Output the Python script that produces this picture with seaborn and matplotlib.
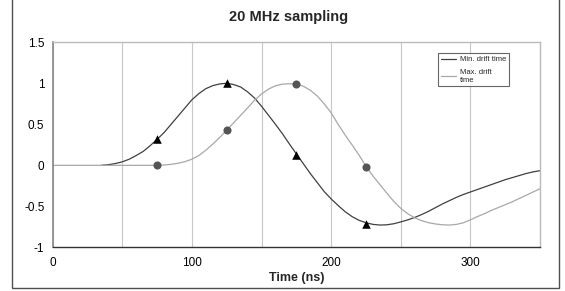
import pandas as pd
import matplotlib.pyplot as plt
import seaborn as sns
from matplotlib.patches import Rectangle
from matplotlib.ticker import MultipleLocator

# curve samples (time in ns, amplitude)
min_time = [35, 40, 45, 50, 55, 60, 65, 70, 75, 80, 85, 90, 95, 100, 105, 110, 115, 120, 125,
            130, 135, 140, 145, 150, 155, 160, 165, 170, 175, 180, 185, 190, 195, 200, 205, 210,
            215, 220, 225, 230, 235, 240, 245, 250, 255, 260, 265, 270, 275, 280, 285, 290, 295,
            300, 305, 310, 315, 320, 325, 330, 335, 340, 345, 350]
min_value = [0.0, 0.008, 0.022, 0.043, 0.075, 0.12, 0.17, 0.24, 0.317, 0.40, 0.50, 0.60, 0.70,
             0.80, 0.875, 0.935, 0.972, 0.993, 1.0, 0.985, 0.955, 0.895, 0.82, 0.72, 0.61, 0.50,
             0.385, 0.26, 0.14, 0.02, -0.10, -0.21, -0.32, -0.41, -0.49, -0.565, -0.625, -0.67,
             -0.70, -0.72, -0.728, -0.725, -0.712, -0.69, -0.665, -0.635, -0.60, -0.56, -0.515,
             -0.47, -0.43, -0.39, -0.355, -0.325, -0.295, -0.265, -0.235, -0.205, -0.175, -0.15,
             -0.125, -0.10, -0.08, -0.065]

max_time = [0, 60, 70, 75, 80, 85, 90, 95, 100, 105, 110, 115, 120, 125, 130, 135, 140, 145,
            150, 155, 160, 165, 170, 175, 180, 185, 190, 195, 200, 205, 210, 215, 220, 225, 230,
            235, 240, 245, 250, 255, 260, 265, 270, 275, 280, 285, 290, 295, 300, 305, 310, 315,
            320, 325, 330, 335, 340, 345, 350]
max_value = [0.0, 0.0, 0.0, 0.0, 0.004, 0.012, 0.025, 0.045, 0.075, 0.12, 0.185, 0.26, 0.34,
             0.43, 0.52, 0.61, 0.70, 0.795, 0.87, 0.93, 0.97, 0.99, 0.995, 0.99, 0.965, 0.915,
             0.845, 0.75, 0.64, 0.50, 0.37, 0.25, 0.125, -0.01, -0.13, -0.235, -0.34, -0.44,
             -0.525, -0.59, -0.64, -0.675, -0.70, -0.715, -0.725, -0.728, -0.72, -0.70, -0.665,
             -0.625, -0.59, -0.55, -0.515, -0.48, -0.445, -0.405, -0.365, -0.325, -0.285]

# 20 MHz samples (every 50 ns)
sample_time = [75, 125, 175, 225]
min_samples = [0.32, 1.0, 0.13, -0.71]
max_samples = [0.0, 0.43, 0.99, -0.02]

x_ticks = [0, 100, 200, 300]
y_ticks = [-1, -0.5, 0, 0.5, 1, 1.5]
y_tick_labels = ['-1', '-0.5', '0', '0.5', '1', '1.5']

sns.set_style('white')
plt.rcParams['font.family'] = ['Liberation Sans', 'DejaVu Sans']

fig = plt.figure(figsize=(5.65, 2.91), dpi=100)
ax = fig.add_axes([0.0933, 0.150, 0.8625, 0.7046])

# outer chart frame
fig.patches.append(Rectangle((12 / 565, 3.5 / 291), 547 / 565, 1.0, transform=fig.transFigure,
                             fill=False, edgecolor='#505050', linewidth=1.0, zorder=0))

min_df = pd.DataFrame({'t': min_time, 'v': min_value})
max_df = pd.DataFrame({'t': max_time, 'v': max_value})

sns.lineplot(data=min_df, x='t', y='v', ax=ax, color='#404040', linewidth=0.9,
             label='Min. drift time', clip_on=False)
sns.lineplot(data=max_df, x='t', y='v', ax=ax, color='#a8a8a8', linewidth=0.9,
             label='Max. drift\ntime', clip_on=False)
sns.scatterplot(x=sample_time, y=min_samples, ax=ax, marker='^', s=38, color='black',
                edgecolor='black', linewidth=0, zorder=5, legend=False)
sns.scatterplot(x=sample_time, y=max_samples, ax=ax, marker='o', s=34, color='#555555',
                edgecolor='#555555', linewidth=0, zorder=5, legend=False)

ax.set_xlim(0, 350)
ax.set_ylim(-1, 1.5)
ax.set_xticks(x_ticks)
ax.xaxis.set_minor_locator(MultipleLocator(50))
ax.set_yticks(y_ticks)
ax.set_yticklabels(y_tick_labels)
ax.grid(True, axis='x', which='both', color='#c8c8c8', linewidth=0.8)
ax.grid(False, axis='y')
ax.tick_params(axis='both', which='major', direction='inout', length=4, width=0.8,
               labelsize=8.5, colors='#333333', labelcolor='black')
ax.tick_params(axis='x', which='major', pad=5)
ax.tick_params(axis='y', which='major', pad=4)
ax.tick_params(axis='x', which='minor', length=0)

ax.spines['left'].set_color('#888888')
ax.spines['left'].set_linewidth(1.2)
ax.spines['bottom'].set_color('#333333')
ax.spines['bottom'].set_linewidth(1.0)
for side in ['top', 'right']:
    ax.spines[side].set_visible(True)
    ax.spines[side].set_color('#bbbbbb')
    ax.spines[side].set_linewidth(1.0)

ax.set_xlabel('Time (ns)', fontsize=9, fontweight='bold', labelpad=2)
ax.set_ylabel('')
fig.text(0.511, 0.94, '20 MHz sampling', ha='center', va='center', fontsize=10.5,
         fontweight='bold')

leg = ax.legend(loc='upper left', bbox_to_anchor=(438.3 / 565, 1 - 53.3 / 291),
                bbox_transform=fig.transFigure, fontsize=5.5, frameon=True, fancybox=False,
                handlelength=2.0, handletextpad=0.5, borderpad=0.35, labelspacing=0.7,
                borderaxespad=0)
leg.get_frame().set_edgecolor('#404040')
leg.get_frame().set_linewidth(0.8)

fig.savefig('out.png', dpi=100)
